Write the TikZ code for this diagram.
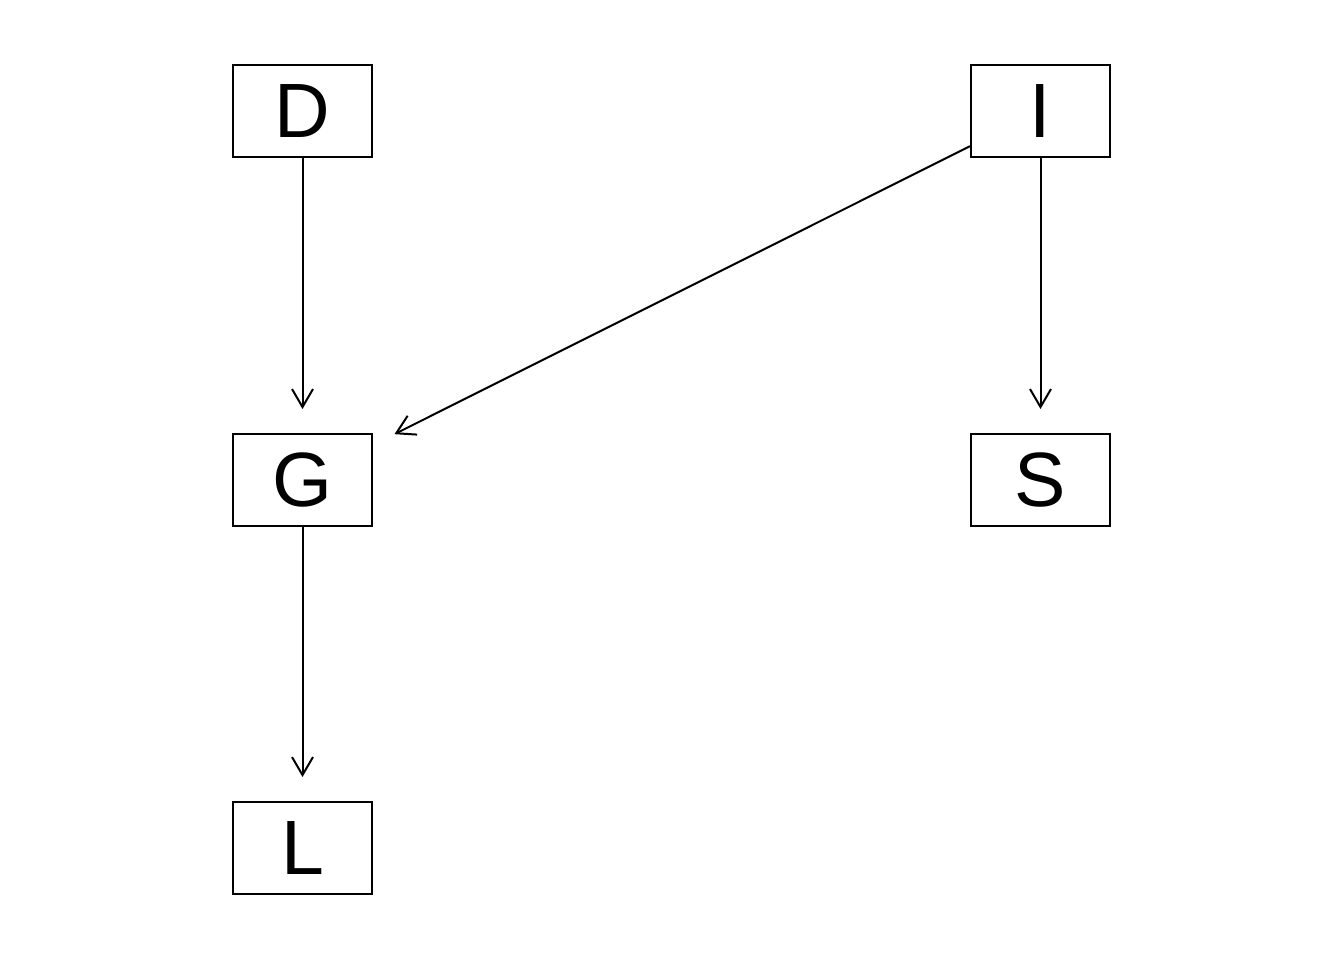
\documentclass[tikz,border=0pt]{standalone}
\usepackage{fontspec}
\setmainfont{Liberation Sans}
\usetikzlibrary{arrows.meta}
\begin{document}
\begin{tikzpicture}[x=0.5pt,y=-0.5pt,
  var/.style={draw,line width=1pt,minimum width=69.5pt,minimum height=46pt,inner sep=0pt,
    font=\fontsize{38.5}{40}\selectfont},
  link/.style={line width=1pt,-{Straight Barb[length=9pt,width=10.5pt,line width=1pt]},shorten >=12pt}]
\useasboundingbox (0,0) rectangle (1344,960);
\node[var] (D) at (302.5,111) {D};
\node[var] (I) at (1040.5,111) {I};
\node[var] (G) at (302.5,480) {G};
\node[var] (S) at (1040.5,480) {S};
\node[var] (L) at (302.5,848) {L};
\draw[link] (D) -- (G);
\draw[link] (I) -- (G);
\draw[link] (I) -- (S);
\draw[link] (G) -- (L);
\end{tikzpicture}
\end{document}
